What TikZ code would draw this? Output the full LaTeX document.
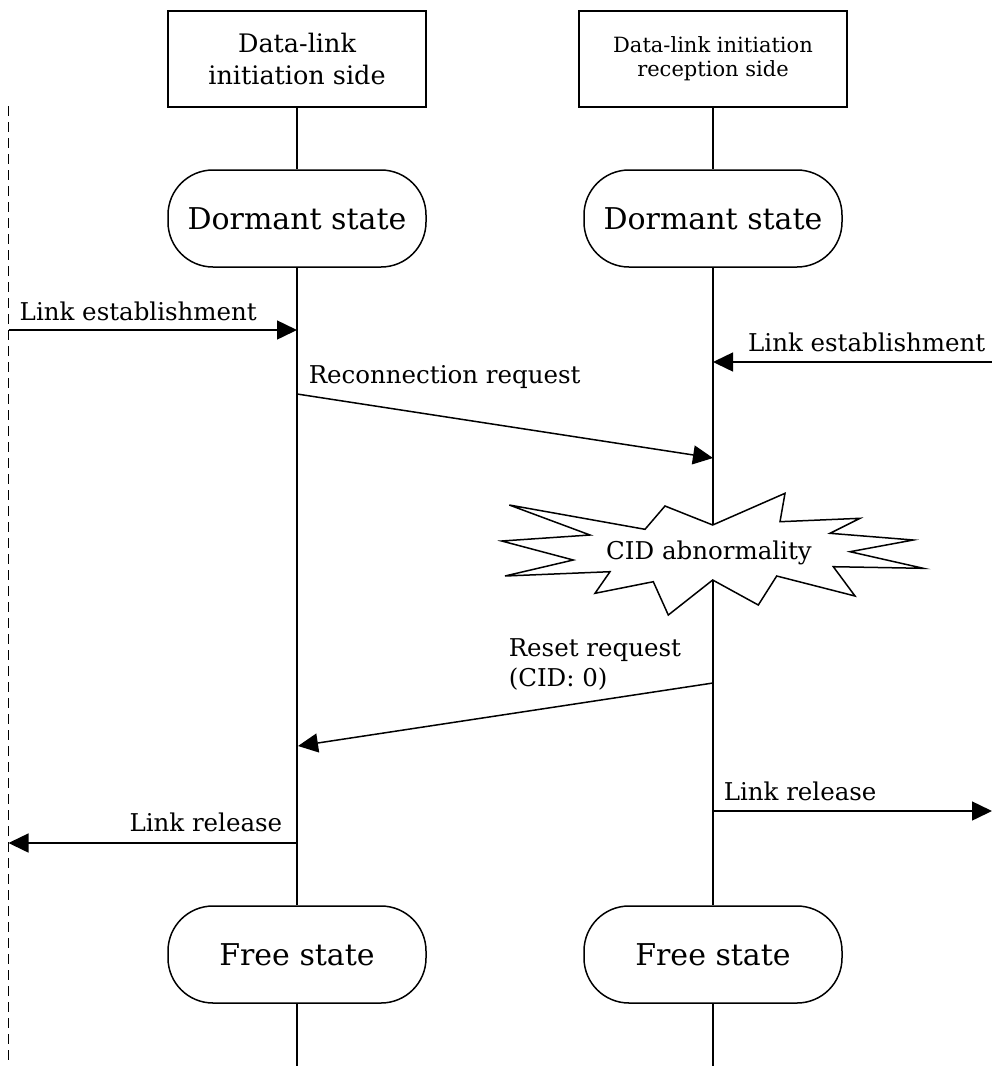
\documentclass[tikz,border=0pt]{standalone}
\usepackage{fontspec}
\setmainfont{DejaVu Serif}
\usetikzlibrary{arrows.meta}
\begin{document}
\begin{tikzpicture}[x=1pt,y=-1pt,line width=1.5pt,
  hdr/.style={draw, minimum width=258pt, minimum height=96pt, inner sep=2pt, align=center},
  st/.style={draw, fill=white, rounded corners=45pt, minimum width=258pt, minimum height=97pt, font=\fontsize{30}{36}\selectfont},
  msg/.style={-{Triangle[length=20pt,width=19pt]}},
  lbl/.style={font=\fontsize{24.5}{29}\selectfont, inner sep=0pt}]
\useasboundingbox (0,0) rectangle (992,1066);

% headers
\node[hdr, font=\fontsize{25.5}{32}\selectfont] (h1) at (297,59) {Data-link\\initiation side};
\node[hdr, minimum width=268pt, font=\fontsize{21}{24}\selectfont] (h2) at (713,59) {Data-link initiation\\reception side};

% states
\node[st] (d1) at (297,218.5) {Dormant state};
\node[st] (d2) at (713,218.5) {Dormant state};
\node[st] (f1) at (297,954.5) {Free state};
\node[st] (f2) at (713,954.5) {Free state};

\coordinate (e1) at (297,1066);
\coordinate (e2) at (713,1066);

% lifelines
\draw (h1) -- (d1);
\draw (h2) -- (d2);
\draw (d1) -- (f1);
\draw (d2) -- (f2);
\draw (f1) -- (e1);
\draw (f2) -- (e2);

% dashed boundary
\coordinate (dtop) at (8.5,106);
\coordinate (dbot) at (8.5,1066);
\draw[dash pattern=on 10pt off 6pt] (dtop) -- (dbot);

% messages
\coordinate (a1) at (8.5,330);
\coordinate (a2) at (297,330);
\draw[msg] (a1) -- (a2);
\node[lbl, anchor=base west] (la) at (19,320) {Link establishment};

\coordinate (b1) at (992,362);
\coordinate (b2) at (713,362);
\draw[msg] (b1) -- (b2);
\node[lbl, anchor=base east] (lb) at (986,351) {Link establishment};

\coordinate (c1) at (297,394);
\coordinate (c2) at (713,458);
\draw[msg] (c1) -- (c2);
\node[lbl, anchor=base west] (lc) at (308,383) {Reconnection request};

% starburst
\draw[fill=white, line join=miter]
  (712.7,525) -- (785,493.3) -- (780,521.7) -- (860,518.3) -- (830,533.3)
  -- (913.3,540) -- (850,551.7) -- (923.3,568.3) -- (833.3,566.7) -- (855,596)
  -- (776.7,576) -- (758.3,605) -- (712.7,580) -- (668.3,615) -- (653.3,581.7)
  -- (595,593.3) -- (610,571.7) -- (505,576) -- (573.3,560) -- (501.7,541)
  -- (590,535) -- (509.3,505) -- (645,529.3) -- (665,506) -- cycle;
\node[lbl] (cid) at (709,553) {CID abnormality};

\coordinate (r1) at (713,683);
\coordinate (r2) at (298,746);
\draw[msg] (r1) -- (r2);
\node[lbl, anchor=base west] (lr) at (508,656) {Reset request};
\node[lbl, anchor=base west] (lr2) at (508,686) {(CID: 0)};

\coordinate (g1) at (713,811);
\coordinate (g2) at (992,811);
\draw[msg] (g1) -- (g2);
\node[lbl, anchor=base west] (lg) at (723,800) {Link release};

\coordinate (k1) at (297,843);
\coordinate (k2) at (8.5,843);
\draw[msg] (k1) -- (k2);
\node[lbl, anchor=base east] (lk) at (283,831) {Link release};
\end{tikzpicture}
\end{document}
